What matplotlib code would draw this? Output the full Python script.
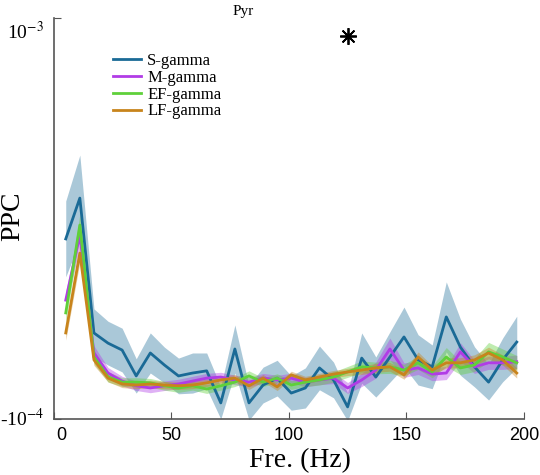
import matplotlib
matplotlib.use("Agg")
import matplotlib.pyplot as plt
import matplotlib.transforms as mtransforms
import numpy as np

# frequency bins (Hz)
freqs = np.arange(5, 198, 6)

# PPC values, in units of 1e-4
s_gamma = [3.94, 5.06, 1.36, 1.08, 0.89, 0.18, 0.81, 0.48, 0.18, 0.26, 0.32,
           -0.56, 0.92, -0.56, -0.07, 0.12, -0.29, -0.15, 0.40, 0.07, -0.67,
           0.67, 0.15, 0.70, 1.25, 0.62, 0.43, 1.80, 0.97, 0.43, 0.01, 0.62, 1.11]
s_sem = [1.04, 1.18, 0.66, 0.60, 0.60, 0.47, 0.55, 0.49, 0.49, 0.55, 0.49,
         0.44, 0.66, 0.47, 0.49, 0.49, 0.47, 0.55, 0.60, 0.49, 0.38,
         0.69, 0.55, 0.69, 0.82, 0.69, 0.60, 0.96, 0.77, 0.55, 0.49, 0.60, 0.71]

m_gamma = [2.26, 4.05, 0.81, 0.26, 0.04, -0.09, -0.15, -0.09, -0.04, 0.04, 0.12,
           0.15, 0.07, 0.01, 0.12, 0.07, 0.12, 0.01, 0.07, 0.12, -0.15,
           0.07, 0.34, 0.92, 0.34, 0.40, 0.23, 0.26, 0.84, 0.43, 0.54, 0.54, 0.57]
m_sem = [0.25, 0.30, 0.20, 0.15, 0.13, 0.13, 0.13, 0.13, 0.13, 0.13, 0.13,
         0.13, 0.13, 0.13, 0.13, 0.13, 0.13, 0.13, 0.13, 0.15, 0.15,
         0.18, 0.22, 0.30, 0.20, 0.18, 0.18, 0.18, 0.25, 0.18, 0.18, 0.18, 0.18]

ef_gamma = [1.91, 4.32, 0.70, 0.15, 0.01, 0.01, -0.01, -0.09, -0.15, -0.09, -0.18,
            -0.09, 0.01, 0.18, 0.01, 0.12, -0.07, 0.01, 0.07, 0.15, 0.29,
            0.43, 0.40, 0.43, 0.34, 0.54, 0.29, 0.70, 0.40, 0.48, 0.84, 0.70, 0.54]
ef_sem = [0.25, 0.30, 0.18, 0.14, 0.12, 0.12, 0.12, 0.12, 0.12, 0.12, 0.12,
          0.12, 0.12, 0.14, 0.12, 0.12, 0.12, 0.12, 0.14, 0.14, 0.15,
          0.16, 0.16, 0.18, 0.16, 0.18, 0.16, 0.26, 0.18, 0.18, 0.26, 0.22, 0.20]

lf_gamma = [1.36, 3.55, 0.62, 0.12, -0.04, -0.07, -0.04, -0.07, -0.09, -0.07, -0.01,
            0.07, 0.12, -0.09, 0.12, -0.12, 0.21, 0.07, 0.15, 0.23, 0.29,
            0.34, 0.40, 0.43, 0.21, 0.70, 0.34, 0.54, 0.54, 0.62, 0.81, 0.62, 0.26]
lf_sem = [0.20, 0.25, 0.15, 0.10, 0.10, 0.10, 0.10, 0.10, 0.10, 0.10, 0.10,
          0.10, 0.10, 0.10, 0.10, 0.10, 0.10, 0.10, 0.10, 0.10, 0.10,
          0.12, 0.12, 0.12, 0.12, 0.14, 0.12, 0.14, 0.14, 0.14, 0.16, 0.14, 0.14]

series = [
    ("S-gamma", s_gamma, s_sem, "#1a6a96", 0.37),
    ("M-gamma", m_gamma, m_sem, "#b13ce6", 0.40),
    ("EF-gamma", ef_gamma, ef_sem, "#5fd03a", 0.40),
    ("LF-gamma", lf_gamma, lf_sem, "#c8841c", 0.40),
]
unit = 1e-4

plt.rcParams["mathtext.fontset"] = "stix"
serif = "Liberation Serif"
sans = "Liberation Sans"

fig = plt.figure(figsize=(5.4, 4.75), dpi=100)
ax = fig.add_axes([0.1, 0.118, 0.87, 0.844])

for name, vals, sem, col, alpha in series:
    v = np.array(vals) * unit
    e = np.array(sem) * unit
    ax.fill_between(freqs, v - e, v + e, color=col, alpha=alpha, lw=0)
    ax.plot(freqs, v, color=col, lw=2.0, label=name)

# significance marker
ax.plot(125, 9.5 * unit, marker=(8, 2, 0), ms=12, mew=1.3, color="k", clip_on=False)

ax.set_xlim(0, 200)
ax.set_ylim(-1e-4, 1e-3)
ax.set_xticks([0, 50, 100, 150, 200])
ax.set_yticks([-1e-4, 1e-3])
ax.set_yticklabels([r"-10$^{-4}$", r"10$^{-3}$"], fontsize=14, fontfamily=serif)
for lab in ax.get_xticklabels():
    lab.set_fontfamily(sans)
    lab.set_fontsize(13)

ax.tick_params(axis="x", direction="in", length=5, pad=6, color="#555555")
ax.tick_params(axis="y", direction="in", length=5, pad=7, color="#555555")


def shift(label, dx, dy):
    label.set_transform(label.get_transform() +
                        mtransforms.ScaledTranslation(dx / 100, dy / 100, fig.dpi_scale_trans))


ylabs = ax.get_yticklabels()
shift(ylabs[1], 0, -12)
shift(ylabs[0], 0, 2)
shift(ax.get_xticklabels()[0], 7, 0)

for side in ["top", "right"]:
    ax.spines[side].set_visible(False)
for side in ["left", "bottom"]:
    ax.spines[side].set_color("#555555")
    ax.spines[side].set_linewidth(1.2)

ax.set_xlabel("Fre. (Hz)", fontsize=20, fontfamily=serif)
ax.xaxis.set_label_coords(0.523, -0.072)
ax.set_ylabel("PPC", fontsize=20, fontfamily=serif)
ax.yaxis.set_label_coords(-0.062, 0.506)

fig.text(243 / 540, 1 - 11 / 475, "Pyr", fontsize=11, fontfamily=serif,
         ha="center", va="center")

ax.legend(loc="upper left", bbox_to_anchor=(0.1255, 0.913), frameon=False,
          prop={"family": serif, "size": 12}, borderpad=0, labelspacing=0.05,
          handlelength=1.7, handletextpad=0.35, borderaxespad=0)

fig.savefig("out.png", dpi=100)
